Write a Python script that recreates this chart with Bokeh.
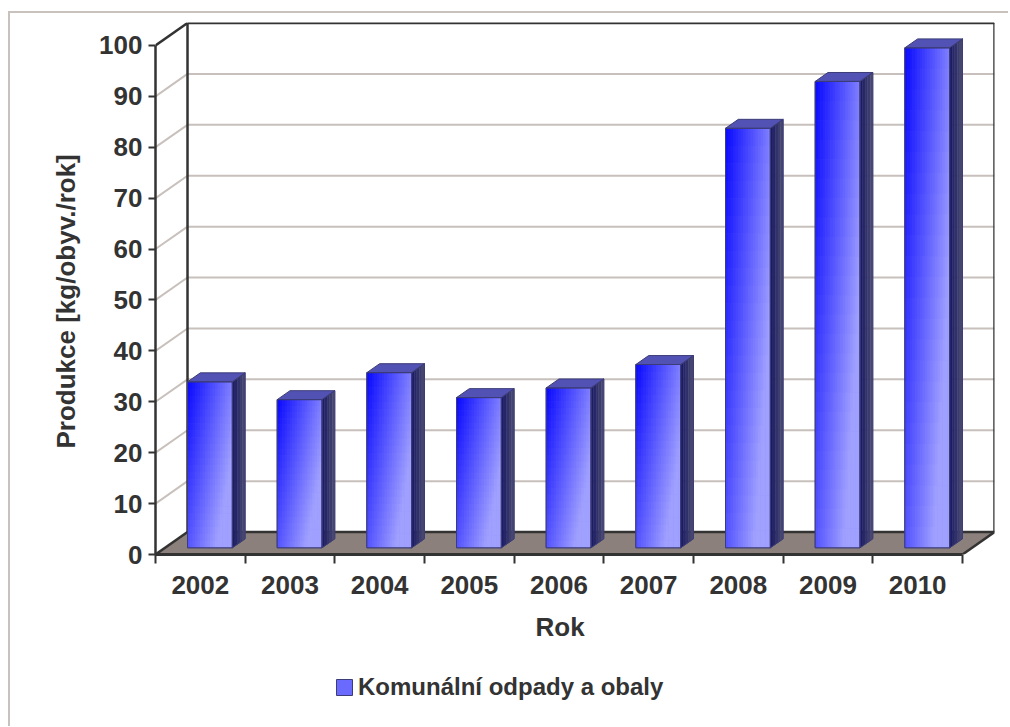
import numpy as np
from bokeh.plotting import figure
from bokeh.layouts import column
from bokeh.models import FixedTicker, Range1d, Legend, LegendItem, Title
from bokeh.embed import file_html
from bokeh.resources import INLINE

# ---------------- data ----------------
years = ["2002", "2003", "2004", "2005", "2006", "2007", "2008", "2009", "2010"]
values = [32.6, 29.1, 34.4, 29.5, 31.4, 36.0, 82.4, 91.6, 98.2]
y_ticks = [0, 10, 20, 30, 40, 50, 60, 70, 80, 90, 100]
series_name = "Komunální odpady a obaly"
x_title = "Rok"
y_title = "Produkce [kg/obyv./rok]"

# ---------------- styling / 3D geometry ----------------
DX = 0.357      # depth offset in category units
DY = 4.4        # depth offset in value units
Z0, Z1 = 0.3, 0.7
BAR_L, BAR_R = 0.25, 0.75
N = len(years)
YMAX = y_ticks[-1]
TXT = "#333333"
AX = "#333333"
GRID = "#c8c0bc"
FLOOR = "#8c807c"
FONT = "Liberation Sans"

p = figure(width=998, height=647,
           x_range=Range1d(0, N + DX), y_range=Range1d(0, YMAX + DY + 0.1),
           output_backend="svg", toolbar_location=None,
           min_border_left=145, min_border_right=14, min_border_top=9, min_border_bottom=106,
           outline_line_color=None, background_fill_color="white", border_fill_color="white")
p.grid.visible = False

# ---------------- walls & grid ----------------
gv = [v for v in y_ticks if 0 < v < YMAX]
p.segment(x0=[DX] * len(gv), y0=[v + DY for v in gv], x1=[N + DX] * len(gv), y1=[v + DY for v in gv],
          line_color=GRID, line_width=2)
p.segment(x0=[0] * len(gv), y0=gv, x1=[DX] * len(gv), y1=[v + DY for v in gv],
          line_color=GRID, line_width=2)

# floor
p.patch(x=[0, N, N + DX, DX], y=[0, 0, DY, DY], fill_color=FLOOR, line_color=None)

# dark edges
ex0 = [DX, DX, N + DX, 0, DX, N, 0]
ey0 = [DY, YMAX + DY, DY, YMAX, DY, 0, 0]
ex1 = [DX, N + DX, N + DX, DX, N + DX, N + DX, DX]
ey1 = [YMAX + DY, YMAX + DY, YMAX + DY, YMAX + DY, DY, DY, DY]
p.segment(x0=ex0, y0=ey0, x1=ex1, y1=ey1, line_color=AX, line_width=2.5)

# ---------------- bars ----------------
def lerp(c0, c1, t):
    return "#%02x%02x%02x" % tuple(int(round(a + (b - a) * t)) for a, b in zip(c0, c1))

front_xs, front_ys, side_xs, side_ys, top_xs, top_ys = [], [], [], [], [], []
cl, cr, ct, cb, cc = [], [], [], [], []
sxs, sys_, scol = [], [], []
NU, NW, NS = 18, 24, 5
for i, v in enumerate(values):
    bx0, bx1 = i + BAR_L, i + BAR_R
    fx0, fx1 = bx0 + Z0 * DX, bx1 + Z0 * DX
    yb, yt = Z0 * DY, v + Z0 * DY
    front_xs.append([fx0, fx1, fx1, fx0]); front_ys.append([yb, yb, yt, yt])
    side_xs.append([fx1, bx1 + Z1 * DX, bx1 + Z1 * DX, fx1])
    side_ys.append([yb, Z1 * DY, v + Z1 * DY, yt])
    top_xs.append([fx0, fx1, bx1 + Z1 * DX, bx0 + Z1 * DX])
    top_ys.append([yt, yt, v + Z1 * DY, v + Z1 * DY])
    for cu in range(NU):
        for cw in range(NW):
            l = fx0 + (fx1 - fx0) * cu / NU
            r = fx0 + (fx1 - fx0) * (cu + 1) / NU + (0.006 if cu < NU - 1 else 0)
            t_ = yt - (yt - yb) * cw / NW
            b_ = yt - (yt - yb) * (cw + 1) / NW - (0.1 if cw < NW - 1 else 0)
            u = (cu + 0.5) / NU
            w = (cw + 0.5) / NW
            tt = min(1.0, 0.78 * u + 0.5 * w)
            cl.append(l); cr.append(r); ct.append(t_); cb.append(b_)
            cc.append(lerp((8, 8, 255), (160, 160, 255), tt))
    for k in range(NS):
        za = Z0 + (Z1 - Z0) * k / NS
        zb = Z0 + (Z1 - Z0) * (k + 1) / NS
        sxs.append([bx1 + za * DX, bx1 + zb * DX, bx1 + zb * DX, bx1 + za * DX])
        sys_.append([za * DY, zb * DY, v + zb * DY, v + za * DY])
        scol.append(lerp((28, 28, 102), (70, 70, 112), k / (NS - 1)))

p.patches(xs=front_xs, ys=front_ys, fill_color="#6a6aff", line_color="#3c3c78", line_width=1)
p.quad(left=cl, right=cr, top=ct, bottom=cb, fill_color=cc, line_color=None)
p.patches(xs=sxs, ys=sys_, fill_color=scol, line_color=scol, line_width=0.5)
p.patches(xs=top_xs, ys=top_ys, fill_color="#5252b4", line_color="#3c3c78", line_width=1)
p.patches(xs=front_xs + side_xs, ys=front_ys + side_ys, fill_alpha=0, line_color="#3c3c78", line_width=1)

# ---------------- axes ----------------
xa = p.xaxis[0]
xa.ticker = FixedTicker(ticks=[i + 0.5 for i in range(N)], minor_ticks=list(range(N + 1)))
xa.major_label_overrides = {i + 0.5: y for i, y in enumerate(years)}
xa.major_tick_line_color = None
xa.major_tick_out = 0
xa.major_tick_in = 0
xa.minor_tick_out = 9
xa.minor_tick_in = 0
xa.minor_tick_line_width = 2
xa.minor_tick_line_color = AX
xa.axis_line_width = 3
xa.axis_line_color = AX
xa.bounds = (0, N)
xa.major_label_standoff = 12
xa.major_label_text_font = FONT
xa.major_label_text_font_style = "bold"
xa.major_label_text_font_size = "26px"
xa.major_label_text_color = TXT

ya = p.yaxis[0]
ya.ticker = FixedTicker(ticks=y_ticks, minor_ticks=[])
ya.major_tick_out = 7
ya.major_tick_in = 0
ya.major_tick_line_width = 2
ya.major_tick_line_color = AX
ya.axis_line_width = 2.5
ya.axis_line_color = AX
ya.bounds = (0, YMAX)
ya.major_label_standoff = 6
ya.major_label_text_font = FONT
ya.major_label_text_font_style = "bold"
ya.major_label_text_font_size = "26px"
ya.major_label_text_color = TXT

# axis titles (placed along the front axes)
xt = Title(text=x_title, align="left", offset=380, standoff=26,
           text_font=FONT, text_font_style="bold", text_font_size="26px", text_color=TXT)
p.add_layout(xt, "below")
yt_ = Title(text=y_title, align="left", offset=106, standoff=32,
            text_font=FONT, text_font_style="bold", text_font_size="26px", text_color=TXT)
p.add_layout(yt_, "left")

# ---------------- legend (own strip below the chart) ----------------
q = figure(width=998, height=66, x_range=Range1d(0, 1), y_range=Range1d(0, 1),
           output_backend="svg", toolbar_location=None,
           x_axis_location=None, y_axis_location=None,
           min_border_left=0, min_border_right=0, min_border_top=0, min_border_bottom=0,
           outline_line_color=None, background_fill_color="white", border_fill_color="white")
q.grid.visible = False
sample = q.patches(xs=[[]], ys=[[]], fill_color="#6a6aff", line_color="#3c3c78", line_width=1)
legend = Legend(items=[LegendItem(label=series_name, renderers=[sample])],
                location=(179, 25), orientation="horizontal",
                border_line_color=None, background_fill_alpha=0, padding=0, margin=0,
                glyph_width=20, glyph_height=20, label_standoff=4, label_height=24,
                label_text_font=FONT, label_text_font_style="bold",
                label_text_font_size="24px", label_text_color=TXT)
q.add_layout(legend)

layout = column(p, q, spacing=0,
                styles={"margin-left": "8px", "margin-top": "11px",
                        "border-left": "2px solid #c9c1bd", "border-top": "2px solid #c9c1bd"})
open("out.html", "w").write(file_html(layout, INLINE))
